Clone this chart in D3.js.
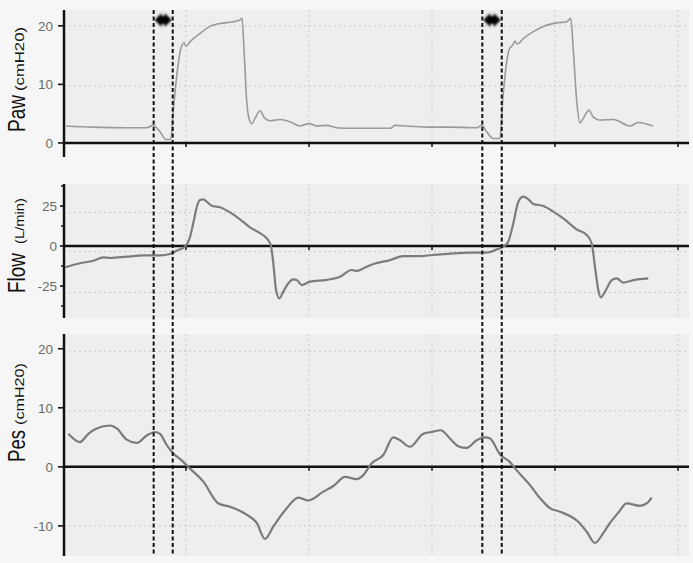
<!DOCTYPE html>
<html><head><meta charset="utf-8">
<script src="https://cdn.jsdelivr.net/npm/d3@7"></script>
<style>
body{margin:0;background:#f6f6f6;}
svg{display:block;font-family:"Liberation Sans",Arial,Helvetica,sans-serif;}
</style>
</head><body>
<svg id="chart" width="693" height="563"></svg>
<script>
// ---- data (time in seconds) ----
const pawTime = [0.024,0.244,0.520,0.683,0.732,0.789,0.837,0.876,0.897,0.924,0.957,0.984,1.000,1.033,1.114,1.195,1.276,1.385,1.439,1.455,1.472,1.493,1.512,1.534,1.561,1.602,1.634,1.683,1.764,1.846,1.927,2.000,2.063,2.144,2.225,2.333,2.496,2.659,2.699,2.794,2.984,3.146,3.363,3.404,3.445,3.498,3.553,3.575,3.602,3.628,3.656,3.675,3.693,3.742,3.824,3.905,4.014,4.095,4.128,4.149,4.176,4.203,4.230,4.276,4.311,4.366,4.474,4.610,4.677,4.797];
const pawValues = [2.9,2.7,2.6,2.6,3.0,1.9,0.6,0.6,5.6,11.3,16.0,17.1,16.5,17.3,18.7,19.9,20.4,20.7,21.0,21.3,15.8,7.3,4.2,3.3,4.2,5.5,4.4,3.8,4.0,3.6,2.9,3.3,2.9,3.0,2.6,2.5,2.5,2.5,3.0,2.9,2.7,2.7,2.6,3.0,1.9,0.75,0.75,7.3,13.0,16.0,16.7,17.4,16.9,17.8,19.0,19.9,20.5,20.7,21.3,15.8,7.3,3.4,4.2,5.6,4.4,3.9,4.0,2.9,3.5,2.9];

const flowTime = [0.016,0.138,0.246,0.328,0.382,0.518,0.653,0.789,0.870,0.924,0.992,1.033,1.059,1.092,1.114,1.141,1.168,1.209,1.276,1.358,1.439,1.520,1.602,1.656,1.689,1.710,1.732,1.759,1.791,1.832,1.872,1.900,1.941,2.008,2.144,2.252,2.347,2.388,2.441,2.523,2.659,2.767,2.902,3.038,3.173,3.309,3.404,3.458,3.526,3.580,3.620,3.661,3.702,3.742,3.783,3.824,3.905,3.986,4.067,4.176,4.258,4.298,4.325,4.352,4.372,4.407,4.461,4.502,4.555,4.637,4.758];
const flowValues = [-13.3,-10.8,-9.2,-7.1,-7.5,-6.7,-5.8,-5.8,-5.0,-2.9,-0.4,5.8,14.2,25.6,28.8,29.2,27.7,25.2,24.2,21.0,16.7,11.7,8.0,4.8,0.6,-10.8,-27.5,-32.7,-28.5,-23.3,-20.8,-21.2,-24.4,-22.3,-21.2,-19.2,-15.0,-15.6,-14.0,-11.3,-8.8,-6.3,-6.3,-5.4,-4.6,-4.2,-4.2,-4.0,-2.1,-0.4,2.7,14.2,27.7,30.8,29.2,26.3,25.0,21.5,17.3,10.4,6.9,1.7,-13.0,-27.5,-32.1,-28.5,-21.3,-20.2,-22.9,-21.3,-20.2];

const pesTime = [0.043,0.138,0.206,0.274,0.382,0.437,0.518,0.599,0.680,0.748,0.789,0.843,0.897,0.965,1.033,1.141,1.263,1.358,1.493,1.575,1.642,1.710,1.819,1.913,1.994,2.116,2.198,2.293,2.388,2.441,2.510,2.604,2.685,2.740,2.821,2.929,2.998,3.071,3.146,3.214,3.282,3.363,3.431,3.472,3.553,3.634,3.689,3.797,3.878,3.959,4.041,4.189,4.258,4.325,4.393,4.447,4.515,4.583,4.691,4.745,4.786];
const pesValues = [5.6,4.2,5.6,6.5,7.0,6.5,4.6,4.05,5.3,5.9,5.6,3.7,2.25,1.1,-0.3,-2.5,-6.2,-6.75,-8.1,-9.5,-12.2,-10.1,-7.0,-5.2,-5.7,-4.2,-3.25,-1.7,-2.1,-1.4,0.6,2.0,5.0,4.5,3.4,5.6,5.9,6.2,4.8,3.5,3.2,4.5,5.0,4.8,2.1,0.8,-0.6,-3.1,-5.3,-7.0,-7.6,-9.3,-11.0,-12.9,-11.2,-9.5,-7.75,-6.2,-6.6,-6.2,-5.2];

const markerTimes = [0.737, 0.892, 3.409, 3.567];
const timeTicks = [1, 2, 3, 4, 5];
const pawTicks = [0, 10, 20];
const pawGrid = [20, 9.7];
const flowTicks = [-25, 0, 25];
const flowMinorTicks = [-37.5, -12.5, 12.5, 37.5];
const flowGrid = [20.9, -3.4, -29.1];
const pesTicks = [-10, 0, 10, 20];
const pesGrid = [19.6, 9.5, -10];

// ---- layout ----
const svg = d3.select("#chart");
const x = d3.scaleLinear().domain([0, 5]).range([63, 678]);
const xLeft = 64, xRight = 689;

const panels = [
  {name:"Paw", unit:"(cmH20)", domain:[-2.4,22.7], range:[157,10], bgBottomAtZero:true,
   t:pawTime, v:pawValues, ticks:pawTicks, minor:[], grid:pawGrid, color:"#9a9a9a", width:1.6,
   labelX:53, tickLen:6, word:[132,37], unitPos:[91,64]},
  {name:"Flow", unit:"(L/min)", domain:[-45,38.75], range:[318,184], bgBottomAtZero:false,
   t:flowTime, v:flowValues, ticks:flowTicks, minor:flowMinorTicks, grid:flowGrid, color:"#7c7c7c", width:2.2,
   labelX:57, tickLen:4, word:[293,40], unitPos:[244,46]},
  {name:"Pes", unit:"(cmH20)", domain:[-15.1,22.5], range:[556,334], bgBottomAtZero:false,
   t:pesTime, v:pesValues, ticks:pesTicks, minor:[], grid:pesGrid, color:"#7a7a7a", width:2.2,
   labelX:53, tickLen:6, word:[462,32], unitPos:[425,62]}
];

const defs = svg.append("defs");
defs.append("filter").attr("id","blur").append("feGaussianBlur").attr("stdDeviation",0.8);

panels.forEach(p => {
  const y = d3.scaleLinear().domain(p.domain).range(p.range);
  const g = svg.append("g");
  const top = p.range[1];
  const bottom = p.bgBottomAtZero ? y(0) : p.range[0];

  g.append("rect").attr("x", xLeft).attr("y", top).attr("width", xRight - xLeft).attr("height", bottom - top)
    .attr("fill", "#eeeeee");

  // grid
  g.selectAll(".vg").data(timeTicks).join("line")
    .attr("x1", d => x(d)).attr("x2", d => x(d)).attr("y1", top).attr("y2", bottom)
    .attr("stroke", "#c8c8c8").attr("stroke-width", 1).attr("stroke-dasharray", "2,3");
  g.selectAll(".hg").data(p.grid).join("line")
    .attr("x1", xLeft).attr("x2", xRight).attr("y1", d => y(d)).attr("y2", d => y(d))
    .attr("stroke", "#c8c8c8").attr("stroke-width", 1).attr("stroke-dasharray", "2,3");

  // y axis line
  g.append("line").attr("x1", xLeft).attr("x2", xLeft).attr("y1", p.range[1]).attr("y2", p.range[0])
    .attr("stroke", "#111").attr("stroke-width", 2.5);
  // ticks
  g.selectAll(".yt").data(p.ticks).join("line")
    .attr("x1", xLeft - p.tickLen).attr("x2", xLeft).attr("y1", d => y(d)).attr("y2", d => y(d))
    .attr("stroke", "#111").attr("stroke-width", 1.6);
  g.selectAll(".ym").data(p.minor).join("line")
    .attr("x1", xLeft - 3).attr("x2", xLeft).attr("y1", d => y(d)).attr("y2", d => y(d))
    .attr("stroke", "#111").attr("stroke-width", 1.4);
  g.selectAll(".yl").data(p.ticks).join("text")
    .attr("x", p.labelX).attr("y", d => y(d)).attr("dy", "0.36em")
    .attr("text-anchor", "end").attr("font-size", 13.5).attr("fill", "#6a6a6a")
    .text(d => d < 0 ? "-" + Math.abs(d) : String(d));

  // zero line
  g.append("line").attr("x1", xLeft).attr("x2", xRight).attr("y1", y(0)).attr("y2", y(0))
    .attr("stroke", "#111").attr("stroke-width", 2.5);
  g.selectAll(".xt").data(timeTicks).join("line")
    .attr("x1", d => x(d)).attr("x2", d => x(d)).attr("y1", y(0)).attr("y2", y(0) + 4)
    .attr("stroke", "#111").attr("stroke-width", 1.5);

  // data line
  const pts = p.t.map((t, i) => [t, p.v[i]]);
  g.append("path").datum(pts)
    .attr("d", d3.line().x(d => x(d[0])).y(d => y(d[1])).curve(d3.curveMonotoneX))
    .attr("fill", "none").attr("stroke", p.color).attr("stroke-width", p.width)
    .attr("stroke-linejoin", "round");

  // rotated labels
  g.append("text").attr("transform", `translate(25,${p.word[0]}) rotate(-90)`)
    .attr("font-size", 23).attr("fill", "#111").attr("textLength", p.word[1]).attr("lengthAdjust", "spacingAndGlyphs")
    .text(p.name);
  g.append("text").attr("transform", `translate(24,${p.unitPos[0]}) rotate(-90)`)
    .attr("font-size", 13).attr("fill", "#111").attr("textLength", p.unitPos[1]).attr("lengthAdjust", "spacingAndGlyphs")
    .text(p.unit);
});

// dashed markers spanning all panels
svg.selectAll(".mk").data(markerTimes).join("line")
  .attr("x1", d => x(d)).attr("x2", d => x(d)).attr("y1", 10).attr("y2", 556)
  .attr("stroke", "#111").attr("stroke-width", 2).attr("stroke-dasharray", "4,2.5");

// double-headed arrows between marker pairs
const pairs = [[markerTimes[0], markerTimes[1]], [markerTimes[2], markerTimes[3]]];
svg.selectAll(".arr").data(pairs).join("path")
  .attr("d", d => {
    const x1 = x(d[0]) + 1, x2 = x(d[1]) - 1, yc = 20, h = 7, hw = 7, s = 4;
    return `M${x1},${yc} L${x1+h},${yc-hw} L${x1+h},${yc-s} L${x2-h},${yc-s} L${x2-h},${yc-hw} L${x2},${yc} L${x2-h},${yc+hw} L${x2-h},${yc+s} L${x1+h},${yc+s} L${x1+h},${yc+hw} Z`;
  })
  .attr("fill", "#000").attr("filter", "url(#blur)");
</script>
</body></html>
